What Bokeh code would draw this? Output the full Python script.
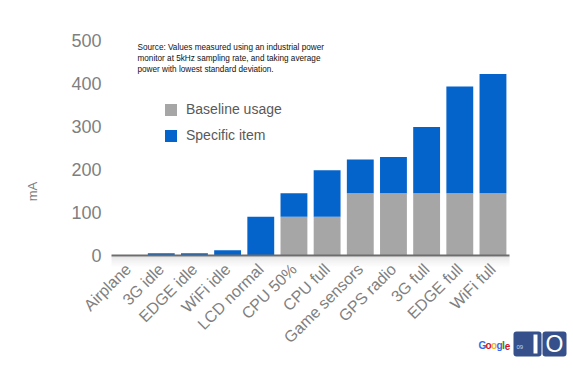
import math
from bokeh.plotting import figure
from bokeh.models import Label, Legend, LegendItem, FixedTicker, Range1d, BoxAnnotation
from bokeh.embed import file_html
from bokeh.resources import INLINE

categories = ["Airplane", "3G idle", "EDGE idle", "WiFi idle", "LCD normal", "CPU 50%",
              "CPU full", "Game sensors", "GPS radio", "3G full", "EDGE full", "WiFi full"]
baseline = [0, 0, 0, 0, 0, 90, 90, 145, 145, 145, 145, 145]
specific = [0, 5, 5, 12, 90, 55, 108, 78, 84, 154, 248, 277]
y_ticks = [0, 100, 200, 300, 400, 500]
series_names = ["Baseline usage", "Specific item"]
note_lines = ["Source: Values measured using an industrial power",
              "monitor at 5kHz sampling rate, and taking average",
              "power with lowest standard deviation."]
y_title = "mA"

GRAY = "#a6a6a6"
BLUE = "#0563cc"
FONT = "Liberation Sans"
W, H = 570, 368

# pixel geometry of the plotting area (page pixels)
PX0, SLOT = 127.6, 33.17      # centre of first category, category spacing
PY0, PPU = 255.0, 0.43        # y pixel of value 0, pixels per mA

def xd(px):
    return (px - PX0) / SLOT

def yd(py):
    return (PY0 - py) / PPU

xs = list(range(len(categories)))

p = figure(x_range=Range1d(xd(0), xd(W)), y_range=Range1d(yd(H), yd(0)),
           width=W, height=H, output_backend="svg", toolbar_location=None)
p.min_border = 0
p.min_border_left = 0
p.min_border_right = 0
p.min_border_top = 0
p.min_border_bottom = 0
p.outline_line_color = None
p.grid.grid_line_color = None
p.background_fill_color = "white"
p.border_fill_color = "white"

# soft shadow under the x axis line
for k, a in enumerate([0.24, 0.17, 0.11, 0.07, 0.035]):
    p.quad(left=-0.5, right=len(categories) - 0.5, top=yd(PY0 + 1 + 2 * k),
           bottom=yd(PY0 + 3 + 2 * k), fill_color="#9a9a9a", fill_alpha=a, line_color=None)

data = dict(x=xs, base=baseline, spec=specific)
rs = p.vbar_stack(["base", "spec"], x="x", width=0.81, color=[GRAY, BLUE],
                  line_color=None, source=data)

# y axis
p.yaxis.fixed_location = -0.5
p.yaxis.bounds = (0, 500)
p.yaxis.ticker = FixedTicker(ticks=y_ticks)
p.yaxis.axis_line_color = None
p.yaxis.major_tick_line_color = None
p.yaxis.minor_tick_line_color = None
p.yaxis.major_label_text_font = FONT
p.yaxis.major_label_text_font_size = "18px"
p.yaxis.major_label_text_color = "#7f7f7f"
p.yaxis.major_label_standoff = 4

# x axis
p.xaxis.fixed_location = 0
p.xaxis.bounds = (-0.5, len(categories) - 0.5)
p.xaxis.ticker = FixedTicker(ticks=xs)
p.xaxis.major_label_overrides = {i: c for i, c in zip(xs, categories)}
p.xaxis.axis_line_color = "#6d6d6d"
p.xaxis.axis_line_width = 2
p.xaxis.major_tick_line_color = None
p.xaxis.minor_tick_line_color = None
p.xaxis.major_label_orientation = math.pi / 4
p.xaxis.major_label_text_font = FONT
p.xaxis.major_label_text_font_size = "16px"
p.xaxis.major_label_text_color = "#7f7f7f"
p.xaxis.major_label_standoff = 5

legend = Legend(items=[LegendItem(label=series_names[0], renderers=[rs[0]]),
                       LegendItem(label=series_names[1], renderers=[rs[1]])],
                location=(163, H - 143), orientation="vertical")
legend.padding = 0
legend.margin = 0
legend.spacing = 10
legend.glyph_width = 15
legend.glyph_height = 15
legend.label_height = 15
legend.label_standoff = 8
legend.label_text_font = FONT
legend.label_text_font_size = "14px"
legend.label_text_color = "#595959"
legend.border_line_color = None
legend.background_fill_alpha = 0
p.add_layout(legend, "center")

for i, line in enumerate(note_lines):
    p.add_layout(Label(x=xd(137), y=yd(47 + i * 11), text=line, text_font=FONT,
                       text_font_size="8.2px", text_color="#111111",
                       text_baseline="middle", text_align="left"))

p.add_layout(Label(x=xd(32), y=yd(191), text=y_title, angle=math.pi / 2,
                   text_font=FONT, text_font_size="13px", text_color="#7f7f7f",
                   text_align="center", text_baseline="middle"))

# Google I/O logo approximation
g_letters = ["G", "o", "o", "g", "l", "e"]
g_colors = ["#3369e8", "#d50f25", "#eeb211", "#3369e8", "#009925", "#d50f25"]
g_w = [7, 5.5, 5.5, 5.5, 2.8, 5.5]
gx = 478
for ch, c, w in zip(g_letters, g_colors, g_w):
    p.add_layout(Label(x=xd(gx), y=yd(345), text=ch, text_font=FONT,
                       text_font_size="10px", text_color=c, text_font_style="bold",
                       text_baseline="middle", text_align="left"))
    gx += w
NAVY = "#35508a"
p.add_layout(BoxAnnotation(left=xd(513), right=xd(541), top=yd(331), bottom=yd(356),
                           fill_color=NAVY, fill_alpha=1, line_color=None,
                           border_radius=3))
p.add_layout(BoxAnnotation(left=xd(542), right=xd(566), top=yd(331), bottom=yd(356),
                           fill_color=NAVY, fill_alpha=1, line_color=None,
                           border_radius=3))
p.add_layout(BoxAnnotation(left=xd(533), right=xd(537), top=yd(334), bottom=yd(353),
                           fill_color="white", fill_alpha=1, line_color=None))
p.add_layout(Label(x=xd(516), y=yd(346), text="09", text_font=FONT,
                   text_font_size="6px", text_color="#c9d3e6",
                   text_baseline="middle", text_align="left"))
p.add_layout(Label(x=xd(554), y=yd(343.5), text="O", text_font=FONT,
                   text_font_size="23px", text_color="white",
                   text_baseline="middle", text_align="center"))

open("out.html", "w").write(file_html(p, INLINE))
